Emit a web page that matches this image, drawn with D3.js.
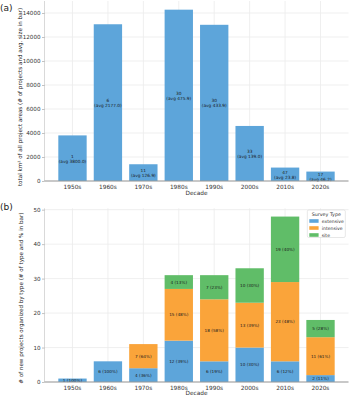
<!DOCTYPE html>
<html>
<head>
<meta charset="utf-8">
<script src="https://cdn.jsdelivr.net/npm/d3@7"></script>
<style>
  html, body { margin: 0; padding: 0; background: #fff; }
  svg { display: block; font-family: "DejaVu Sans", sans-serif; }
</style>
</head>
<body>
<svg id="chart" width="350" height="396"></svg>
<script>
// ---------- data ----------
const decades = ["1950s","1960s","1970s","1980s","1990s","2000s","2010s","2020s"];
// panel (a)
const projectCounts = [1, 6, 11, 30, 30, 33, 47, 17];
const avgSizes = [3800.0, 2177.0, 126.9, 475.9, 433.9, 139.0, 23.8, 46.2];
const totalAreas = [3800, 13062, 1396, 14277, 13017, 4587, 1119, 785];
const areaTicks = [0, 2000, 4000, 6000, 8000, 10000, 12000, 14000];
// panel (b)
const surveyTypes = ["extensive", "intensive", "site"];
const extensive = [1, 6, 4, 12, 6, 10, 6, 2];
const intensive = [0, 0, 7, 15, 18, 13, 23, 11];
const site = [0, 0, 0, 4, 7, 10, 19, 5];
const extensivePct = [100, 100, 36, 39, 19, 30, 12, 11];
const intensivePct = [0, 0, 64, 48, 58, 39, 48, 61];
const sitePct = [0, 0, 0, 13, 23, 30, 40, 28];
const countTicks = [0, 10, 20, 30, 40, 50];

const colors = {extensive: "#5DA5DA", intensive: "#FAA43A", site: "#60BD68"};
const gridColor = "#ebebeb";
const textColor = "#333";

const svg = d3.select("#chart");
const left = 44.5, right = 348.5;

const x = d3.scaleBand().domain(decades).range([left, right])
  .paddingInner(0.2).paddingOuter(0.39);

function drawFrame(g, y, ticks, bottom, top) {
  g.append("g").selectAll("line.h").data(ticks).join("line")
    .attr("x1", left).attr("x2", right)
    .attr("y1", d => y(d)).attr("y2", d => y(d))
    .attr("stroke", gridColor).attr("stroke-width", 0.8);
  g.append("g").selectAll("line.v").data(decades).join("line")
    .attr("x1", d => x(d) + x.bandwidth()/2).attr("x2", d => x(d) + x.bandwidth()/2)
    .attr("y1", top).attr("y2", bottom)
    .attr("stroke", gridColor).attr("stroke-width", 0.8);
}

function drawAxes(g, y, ticks, bottom, top) {
  const yAxis = d3.axisLeft(y).tickValues(ticks).tickSize(2.5).tickPadding(1.5).tickFormat(d3.format("d"));
  const ya = g.append("g").attr("transform", `translate(${left},0)`).call(yAxis);
  ya.select(".domain").attr("stroke", "#cfcfcf").attr("stroke-width", 0.8)
    .attr("d", `M0,${bottom}V${top}`);
  ya.selectAll(".tick line").attr("stroke", "#999").attr("stroke-width", 0.6);
  ya.selectAll(".tick text").attr("font-size", 5.6).attr("fill", textColor)
    .attr("font-family", "DejaVu Sans");

  const xAxis = d3.axisBottom(x).tickSize(0).tickPadding(4);
  const xa = g.append("g").attr("transform", `translate(0,${bottom})`).call(xAxis);
  xa.select(".domain").attr("stroke", "#999").attr("stroke-width", 1)
    .attr("d", `M${left},0H${right}`);
  xa.selectAll(".tick text").attr("font-size", 5.8).attr("fill", textColor)
    .attr("font-family", "DejaVu Sans");
}

// ---------- panel (a) ----------
{
  const bottom = 181, top = 1;
  const y = d3.scaleLinear().domain([0, 15000]).range([bottom, top]);
  const g = svg.append("g");
  drawFrame(g, y, areaTicks, bottom, top);

  g.append("g").selectAll("rect").data(decades).join("rect")
    .attr("x", d => x(d)).attr("width", x.bandwidth())
    .attr("y", (d, i) => y(totalAreas[i]))
    .attr("height", (d, i) => y(0) - y(totalAreas[i]))
    .attr("fill", colors.extensive);

  const lab = g.append("g").selectAll("text").data(decades).join("text")
    .attr("text-anchor", "middle").attr("font-size", 4.3).attr("fill", "#1a1a1a")
    .attr("x", d => x(d) + x.bandwidth()/2)
    .attr("y", (d, i) => (y(totalAreas[i]) + y(0)) / 2);
  lab.append("tspan").attr("x", d => x(d) + x.bandwidth()/2).attr("dy", "-0.15em")
    .text((d, i) => projectCounts[i]);
  lab.append("tspan").attr("x", d => x(d) + x.bandwidth()/2).attr("dy", "1.15em")
    .text((d, i) => `(avg ${avgSizes[i].toFixed(1)})`);

  drawAxes(g, y, areaTicks, bottom, top);

  g.append("text").attr("x", (left + right)/2).attr("y", 194.5)
    .attr("text-anchor", "middle").attr("font-size", 5.8).attr("fill", textColor)
    .text("Decade");
  g.append("text").attr("transform", `translate(21.5,${(bottom + top)/2 + 6}) rotate(-90)`)
    .attr("text-anchor", "middle").attr("font-size", 5.6).attr("fill", "#222")
    .text("total km² of all project areas (# of projects and avg. size in bar)");
  g.append("text").attr("x", 0).attr("y", 11).attr("font-size", 9).attr("fill", "#222")
    .text("(a)");
}

// ---------- panel (b) ----------
{
  const bottom = 382, top = 208.3;
  const y = d3.scaleLinear().domain([0, 50.4]).range([bottom, top]);
  const g = svg.append("g");
  drawFrame(g, y, countTicks, bottom, top);

  const table = decades.map((d, i) => ({decade: d, extensive: extensive[i], intensive: intensive[i], site: site[i]}));
  const pcts = {extensive: extensivePct, intensive: intensivePct, site: sitePct};
  const stack = d3.stack().keys(surveyTypes)(table);

  stack.forEach(layer => {
    const key = layer.key;
    const lg = g.append("g");
    lg.selectAll("rect").data(layer).join("rect")
      .attr("x", d => x(d.data.decade)).attr("width", x.bandwidth())
      .attr("y", d => y(d[1])).attr("height", d => y(d[0]) - y(d[1]))
      .attr("fill", colors[key]);
    lg.selectAll("text").data(layer.map((d, i) => ({d, i})).filter(o => o.d[1] - o.d[0] > 0)).join("text")
      .attr("x", o => x(o.d.data.decade) + x.bandwidth()/2)
      .attr("y", o => (y(o.d[0]) + y(o.d[1]))/2)
      .attr("dy", "0.35em")
      .attr("text-anchor", "middle").attr("font-size", 4.2).attr("fill", "#1a1a1a")
      .text(o => `${o.d.data[key]} (${pcts[key][o.i]}%)`);
  });

  drawAxes(g, y, countTicks, bottom, top);

  g.append("text").attr("x", (left + right)/2).attr("y", 395)
    .attr("text-anchor", "middle").attr("font-size", 5.8).attr("fill", textColor)
    .text("Decade");
  g.append("text").attr("transform", `translate(22.5,${(bottom + top)/2 + 3}) rotate(-90)`)
    .attr("text-anchor", "middle").attr("font-size", 5.6).attr("fill", "#222")
    .text("# of new projects organized by type (# of type and % in bar)");
  g.append("text").attr("x", 0).attr("y", 209.5).attr("font-size", 9).attr("fill", "#222")
    .text("(b)");

  // legend
  const lgX = 307.3, lgY = 210;
  const leg = g.append("g");
  leg.append("rect").attr("x", lgX).attr("y", lgY).attr("width", 38).attr("height", 27.5)
    .attr("rx", 1.5).attr("fill", "#fff").attr("fill-opacity", 0.85)
    .attr("stroke", "#d6d6d6").attr("stroke-width", 0.6);
  leg.append("text").attr("x", lgX + 19).attr("y", lgY + 5.8).attr("text-anchor", "middle")
    .attr("font-size", 4.8).attr("fill", "#333").text("Survey Type");
  surveyTypes.forEach((k, i) => {
    const cy = lgY + 11 + i * 7;
    leg.append("rect").attr("x", lgX + 2).attr("y", cy - 1.8).attr("width", 9.3).attr("height", 3.6)
      .attr("fill", colors[k]);
    leg.append("text").attr("x", lgX + 14.4).attr("y", cy).attr("dy", "0.35em")
      .attr("font-size", 4.6).attr("fill", "#333").text(k);
  });
}
</script>
</body>
</html>
